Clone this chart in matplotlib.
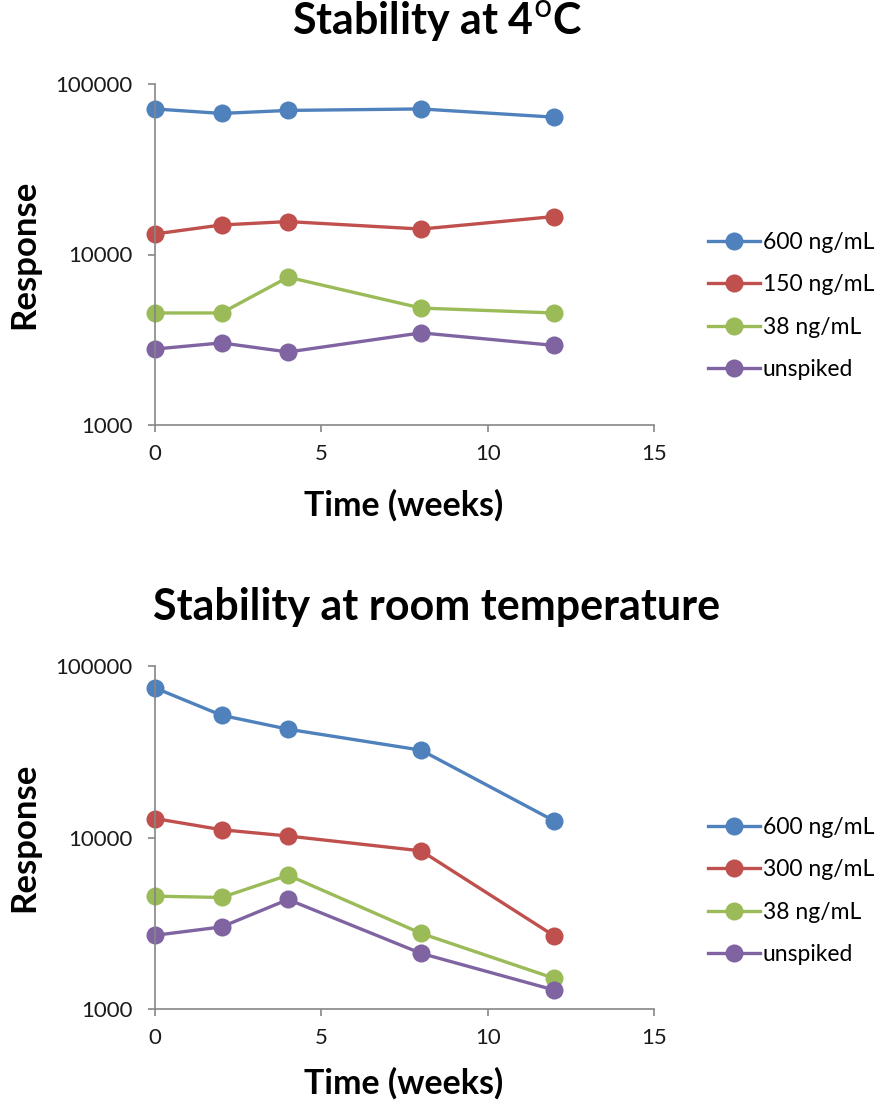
import matplotlib
matplotlib.use("Agg")
import matplotlib.pyplot as plt
from matplotlib.ticker import FixedLocator, NullLocator

plt.rcParams['font.family'] = ['Lato', 'DejaVu Sans']

weeks = [0, 2, 4, 8, 12]

# Stability at 4 °C
cold_labels = ["600 ng/mL", "150 ng/mL", "38 ng/mL", "unspiked"]
cold_600 = [71400, 67200, 70000, 71400, 63900]
cold_150 = [13200, 14900, 15600, 14100, 16700]
cold_38 = [4540, 4540, 7360, 4850, 4540]
cold_unspiked = [2790, 3030, 2680, 3470, 2930]

# Stability at room temperature
room_labels = ["600 ng/mL", "300 ng/mL", "38 ng/mL", "unspiked"]
room_600 = [74500, 51600, 42800, 32300, 12500]
room_300 = [12900, 11100, 10200, 8360, 2670]
room_38 = [4550, 4470, 6030, 2760, 1510]
room_unspiked = [2690, 3010, 4350, 2110, 1290]

x_ticks = [0, 5, 10, 15]
y_ticks = [1000, 10000, 100000]

colors = ["#4F81BD", "#C0504D", "#9BBB59", "#8064A2"]
spine_col = "#868686"

W, H = 881, 1107
fig = plt.figure(figsize=(W / 100, H / 100), dpi=100)

def fx(px):
    return px / W

def fy(py):
    return 1 - py / H

def make_panel(top_px, bot_px, series, labels, title, title_y, legend_y, xlab_base):
    ax = fig.add_axes([fx(155), fy(bot_px), fx(654) - fx(155), fy(top_px) - fy(bot_px)])
    for vals, lab, c in zip(series, labels, colors):
        ax.plot(weeks, vals, color=c, lw=2.4, marker='o', ms=13,
                markeredgewidth=0, label=lab, clip_on=False)
    ax.set_yscale('log')
    ax.set_ylim(1000, 100000)
    ax.set_xlim(0, 15)
    ax.yaxis.set_major_locator(FixedLocator(y_ticks))
    ax.yaxis.set_minor_locator(NullLocator())
    ax.set_yticklabels([str(v) for v in y_ticks])
    ax.xaxis.set_major_locator(FixedLocator(x_ticks))
    ax.set_xticklabels([str(v) for v in x_ticks])
    for s in ['top', 'right']:
        ax.spines[s].set_visible(False)
    for s in ['left', 'bottom']:
        ax.spines[s].set_color(spine_col)
        ax.spines[s].set_linewidth(1.2)
    ax.tick_params(axis='both', direction='out', length=5, width=1.2,
                   color=spine_col, labelsize=16, labelcolor='#1a1a1a')
    ax.tick_params(axis='y', pad=11)
    ax.tick_params(axis='x', pad=9)
    fig.text(fx(404), fy(xlab_base), "Time (weeks)", fontsize=24.5,
             fontweight='bold', ha='center', va='baseline')
    fig.text(fx(24), fy((top_px + bot_px) / 2), "Response", rotation=90,
             fontsize=25, fontweight='bold', ha='center', va='center')
    fig.text(fx(437), fy(title_y), title, fontsize=31, fontweight='bold',
             ha='center', va='center')
    ax.legend(loc='center left', bbox_to_anchor=(fx(708), fy(legend_y)),
              bbox_transform=fig.transFigure, frameon=False, fontsize=16.5,
              handlelength=2.25, handletextpad=0.15, labelspacing=0.92,
              borderpad=0, borderaxespad=0)
    return ax

make_panel(84, 425, [cold_600, cold_150, cold_38, cold_unspiked], cold_labels,
           "Stability at 4$^{\\mathrm{o}}$C", 22, 306, 516)
make_panel(666, 1009, [room_600, room_300, room_38, room_unspiked], room_labels,
           "Stability at room temperature", 607, 891, 1094)

fig.savefig("out.png", dpi=100)
